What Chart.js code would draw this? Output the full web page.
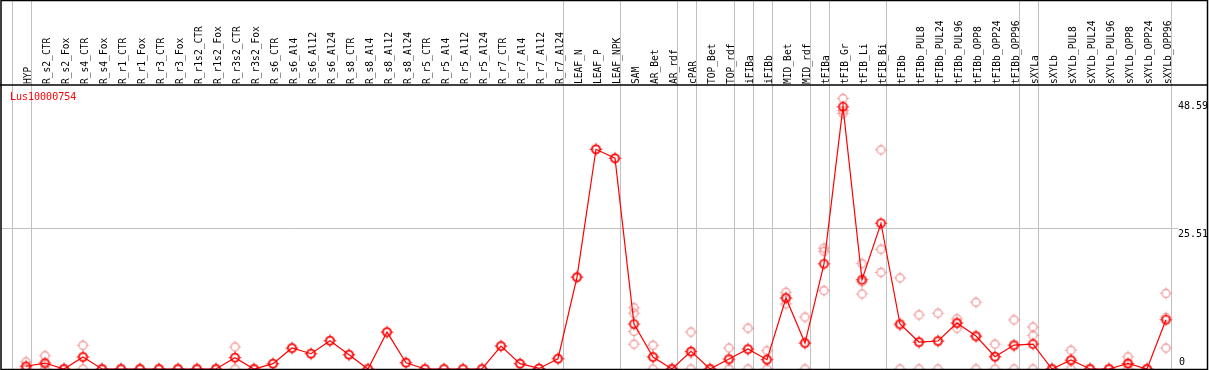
<!DOCTYPE html>
<html>
<head>
<meta charset="utf-8">
<script src="https://cdn.jsdelivr.net/npm/chart.js@4/dist/chart.umd.min.js"></script>
<style>
  html, body { margin: 0; padding: 0; background: #fff; }
  canvas { display: block; }
</style>
</head>
<body>
<canvas id="geneChart" width="1209" height="370"></canvas>
<script>
// sample names along the top
const categories = [
  "HYP", "R_s2_CTR", "R_s2_Fox", "R_s4_CTR", "R_s4_Fox", "R_r1_CTR", "R_r1_Fox",
  "R_r3_CTR", "R_r3_Fox", "R_r1s2_CTR", "R_r1s2_Fox", "R_r3s2_CTR", "R_r3s2_Fox",
  "R_s6_CTR", "R_s6_Al4", "R_s6_Al12", "R_s6_Al24", "R_s8_CTR", "R_s8_Al4",
  "R_s8_Al12", "R_s8_Al24", "R_r5_CTR", "R_r5_Al4", "R_r5_Al12", "R_r5_Al24",
  "R_r7_CTR", "R_r7_Al4", "R_r7_Al12", "R_r7_Al24", "LEAF_N", "LEAF_P", "LEAF_NPK",
  "SAM", "AR_Bet", "AR_rdf", "cPAR", "TOP_Bet", "TOP_rdf", "iFIBa", "iFIBb",
  "MID_Bet", "MID_rdf", "tFIBa", "tFIB_Gr", "tFIB_Li", "tFIB_Bi", "tFIBb",
  "tFIBb_PUL8", "tFIBb_PUL24", "tFIBb_PUL96", "tFIBb_OPP8", "tFIBb_OPP24", "tFIBb_OPP96",
  "sXYLa", "sXYLb", "sXYLb_PUL8", "sXYLb_PUL24", "sXYLb_PUL96", "sXYLb_OPP8",
  "sXYLb_OPP24", "sXYLb_OPP96"
];

// mean expression per sample
const meanValues = [
  0.5, 1.08, 0, 2.17, 0, 0, 0, 0, 0, 0, 0, 2.04, 0,
  0.96, 3.8, 2.77, 5.12, 2.59, 0, 6.69, 1.14, 0, 0, 0, 0,
  4.16, 0.96, 0.1, 1.86, 16.64, 39.8, 38.17,
  8.14, 2.17, 0, 3.19, 0, 1.81, 3.62, 1.68,
  12.85, 4.7, 19.05, 47.5, 16.16, 26.4, 8.14,
  4.88, 5.07, 8.32, 5.97, 2.23, 4.34,
  4.52, 0, 1.63, 0, 0, 1.01, 0, 8.92
];

// single replicates per sample
const replicateValues = [
  [1.3, 0.2, 0], [2.4, 0.8, 0], [0, 0], [4.3, 2.2, 0], [0, 0], [0, 0], [0, 0],
  [0, 0], [0, 0], [0, 0], [0, 0], [4.0, 2.1, 0], [0, 0],
  [0.96], [3.8], [2.77], [5.12], [2.59], [0], [6.69], [1.14], [0], [0], [0], [0],
  [4.16], [0.96], [0.1], [1.86], [16.64], [39.8], [38.17],
  [11.1, 10.1, 6.8, 4.5], [4.3, 2.2, 0], [0, 0], [6.7, 2.9, 0], [0, 0], [3.8, 1.6, 0],
  [7.4, 3.5, 0], [3.3, 1.7, 0],
  [13.9, 12.9, 11.8], [9.4, 4.7, 0], [21.9, 21.3, 14.2], [49.0, 46.8, 46.3],
  [19.1, 15.8, 13.6], [39.7, 21.7, 17.5], [16.5, 7.9, 0],
  [9.8, 4.8, 0], [10.1, 5.1, 0], [9.1, 8.4, 7.4], [12.1, 5.8, 0], [4.5, 2.2, 0], [8.9, 4.1, 0],
  [7.6, 6.1, 0], [0, 0], [3.4, 1.5, 0], [0, 0], [0, 0], [2.2, 0.8, 0], [0, 0],
  [13.7, 9.3, 3.8]
];

// value axis labels
const yTicks = [0, 25.51, 48.59];
// samples after which a group separator is drawn (-1 = before first)
const groupEnds = [-1, 0, 28, 31, 34, 35, 37, 38, 39, 41, 42, 45, 52, 53, 60];

const geneName = "Lus10000754";
const monoFont = "'DejaVu Sans Mono', 'Liberation Mono', monospace";

function makeMarker(color, lw) {
  const c = document.createElement("canvas");
  c.width = 15; c.height = 15;
  const g = c.getContext("2d");
  g.strokeStyle = color;
  g.lineWidth = lw;
  g.beginPath();
  g.arc(7.5, 7.5, 4, 0, Math.PI * 2);
  g.stroke();
  g.lineWidth = 1;
  g.beginPath();
  g.moveTo(7.5, 1.5); g.lineTo(7.5, 3.5);
  g.moveTo(7.5, 11.5); g.lineTo(7.5, 13.5);
  g.moveTo(1.5, 7.5); g.lineTo(3.5, 7.5);
  g.moveTo(11.5, 7.5); g.lineTo(13.5, 7.5);
  g.stroke();
  return c;
}

const meanMarker = makeMarker("#ff0000", 1.7);
const repMarker = makeMarker("rgba(238,145,145,0.9)", 1.3);

const meanPoints = meanValues.map((v, i) => ({ x: i, y: v }));
const repPoints = [];
replicateValues.forEach((list, i) => list.forEach(v => repPoints.push({ x: i, y: v })));

// frame, group lines, y labels and gene name
const decorations = {
  id: "decorations",
  beforeDatasetsDraw(chart) {
    const ctx = chart.ctx;
    const { left, right, top, bottom } = chart.chartArea;
    const xs = chart.scales.x, ys = chart.scales.y;
    ctx.save();
    ctx.strokeStyle = "#c0c0c0";
    ctx.lineWidth = 1;
    groupEnds.forEach(k => {
      const px = Math.round(xs.getPixelForValue(k + 0.25)) + 0.5;
      ctx.beginPath();
      ctx.moveTo(px, 0);
      ctx.lineTo(px, bottom);
      ctx.stroke();
    });
    const gy = Math.round(ys.getPixelForValue(25.51)) + 0.5;
    ctx.beginPath();
    ctx.moveTo(left, gy);
    ctx.lineTo(right, gy);
    ctx.stroke();
    ctx.restore();
  },
  afterDraw(chart) {
    const ctx = chart.ctx;
    const { left, right, top, bottom } = chart.chartArea;
    const ys = chart.scales.y;
    ctx.save();
    ctx.strokeStyle = "#000";
    ctx.lineWidth = 1.5;
    ctx.strokeRect(1, 0.5, 1206.5, bottom);
    ctx.beginPath();
    ctx.moveTo(0, top);
    ctx.lineTo(1208, top);
    ctx.stroke();

    ctx.font = "10px " + monoFont;
    ctx.fillStyle = "#000";
    ctx.textAlign = "left";
    yTicks.forEach(v => {
      const py = ys.getPixelForValue(v);
      if (v === 0) {
        ctx.textBaseline = "bottom";
        ctx.fillText("0", right + 1, py - 2);
      } else {
        ctx.textBaseline = "top";
        ctx.fillText(v.toFixed(2), right, py + 1);
      }
    });

    ctx.fillStyle = "#ff0000";
    ctx.textBaseline = "top";
    ctx.fillText(geneName, left + 9, top + 7);
    ctx.restore();
  }
};

new Chart(document.getElementById("geneChart"), {
  type: "line",
  data: {
    datasets: [
      {
        label: "mean",
        data: meanPoints,
        borderColor: "#ff0000",
        borderWidth: 1.2,
        tension: 0,
        pointStyle: meanMarker,
        pointRadius: 5,
        clip: false
      },
      {
        label: "replicates",
        data: repPoints,
        showLine: false,
        pointStyle: repMarker,
        pointRadius: 5,
        clip: false
      }
    ]
  },
  options: {
    responsive: false,
    animation: false,
    events: [],
    layout: {
      autoPadding: false,
      padding: { left: 1, right: 31, top: 0, bottom: 1 }
    },
    plugins: {
      legend: { display: false },
      tooltip: { enabled: false }
    },
    scales: {
      x: {
        type: "linear",
        position: "top",
        min: -1.3158,
        max: 60.632,
        afterBuildTicks: scale => {
          scale.ticks = categories.map((c, i) => ({ value: i }));
        },
        afterFit: scale => {
          scale.height = 85;
          scale.paddingLeft = 0;
          scale.paddingRight = 0;
        },
        grid: { display: false, drawTicks: false },
        border: { display: false },
        ticks: {
          autoSkip: false,
          minRotation: 90,
          maxRotation: 90,
          padding: 1,
          labelOffset: 14,
          color: "#000",
          font: { family: monoFont, size: 9.6 },
          callback: v => categories[v]
        }
      },
      y: {
        display: false,
        min: 0,
        max: 51.44,
        afterFit: scale => {
          scale.paddingTop = 0;
          scale.paddingBottom = 0;
        }
      }
    }
  },
  plugins: [decorations]
});
</script>
</body>
</html>
